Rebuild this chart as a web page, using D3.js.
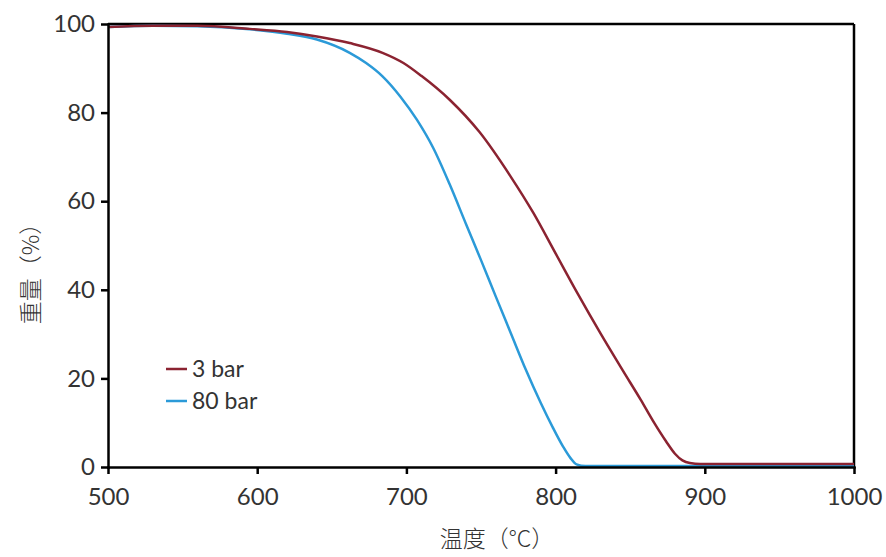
<!DOCTYPE html>
<html>
<head>
<meta charset="utf-8">
<script src="https://cdn.jsdelivr.net/npm/d3@7"></script>
<style>
  body { margin: 0; background: #fff; }
  .axis text { font-family: Lato, "Noto Sans", sans-serif; font-size: 24px; fill: #333; }
  .axis path, .axis line { stroke: #000; stroke-width: 2.5; }
</style>
</head>
<body>
<svg id="chart"></svg>
<script>
//*************** data ******************//
var xTicks = [500, 600, 700, 800, 900, 1000];
var yTicks = [0, 20, 40, 60, 80, 100];

// 3 bar
var temp3 = [500, 530, 560, 595, 620, 640, 662, 684, 698, 710, 729, 749, 770, 785, 800, 815, 830, 845, 857, 866, 874, 880, 885, 890, 897, 1000];
var wt3   = [99.3, 99.6, 99.6, 98.9, 98.2, 97.2, 95.7, 93.5, 91.2, 88.3, 82.9, 75.6, 65.5, 57.4, 48.2, 39, 30.2, 21.8, 15.2, 10, 5.8, 3.0, 1.5, 0.9, 0.7, 0.7];

// 80 bar
var temp80 = [500, 530, 560, 595, 620, 640, 662, 673, 684, 696, 707, 718, 729, 740, 750, 760, 770, 780, 790, 798, 805, 810, 814, 820, 1000];
var wt80   = [99.3, 99.6, 99.5, 98.8, 97.8, 96.5, 93.5, 91.2, 88.2, 83.6, 78.4, 72, 63.8, 54.8, 46.7, 38.4, 30.2, 22, 14.5, 9, 4.6, 2, 0.6, 0.2, 0.2];

var seriesNames = ["3 bar", "80 bar"];
var seriesColors = ["#8b2331", "#2b9ad8"];

//*************** setup ******************//
var W = 886, H = 557;
var margin = {top: 24, right: 32, bottom: 90, left: 108};
var width = W - margin.left - margin.right,
    height = H - margin.top - margin.bottom;

var svg = d3.select("svg#chart")
  .attr("width", W)
  .attr("height", H);

var plot = svg.append("g")
  .attr("transform", "translate(" + margin.left + "," + margin.top + ")");

var xScale = d3.scaleLinear().domain([500, 1000]).range([0, width]),
    yScale = d3.scaleLinear().domain([0, 100]).range([height, 0]);

// box top / right
plot.append("line")
  .attr("x1", 0).attr("x2", width).attr("y1", 0).attr("y2", 0)
  .attr("stroke", "#000").attr("stroke-width", 2.5);
plot.append("line")
  .attr("x1", width).attr("x2", width).attr("y1", 0).attr("y2", height)
  .attr("stroke", "#000").attr("stroke-width", 2.5);

//--------------- lines
var line = d3.line()
  .x(function(d) { return xScale(d.t); })
  .y(function(d) { return yScale(d.w); })
  .curve(d3.curveMonotoneX);

var data3 = temp3.map(function(t, i) { return {t: t, w: wt3[i]}; });
var data80 = temp80.map(function(t, i) { return {t: t, w: wt80[i]}; });

plot.append("path")
  .datum(data80)
  .attr("fill", "none")
  .attr("stroke", seriesColors[1])
  .attr("stroke-width", 2.5)
  .attr("d", line);

plot.append("path")
  .datum(data3)
  .attr("fill", "none")
  .attr("stroke", seriesColors[0])
  .attr("stroke-width", 2.5)
  .attr("d", line);

//--------------- axes
var xAxis = d3.axisBottom(xScale).tickValues(xTicks).tickSize(7).tickPadding(14)
  .tickSizeOuter(0).tickFormat(d3.format("d"));
plot.append("g")
  .attr("class", "axis")
  .attr("transform", "translate(0," + height + ")")
  .call(xAxis);

var yAxis = d3.axisLeft(yScale).tickValues(yTicks).tickSize(7).tickPadding(6).tickSizeOuter(0);
plot.append("g")
  .attr("class", "axis")
  .call(yAxis);

plot.selectAll(".axis .domain").attr("stroke-linecap", "square");

//--------------- axis titles
svg.append("text")
  .attr("x", 497)
  .attr("y", 547)
  .attr("text-anchor", "middle")
  .attr("font-family", "'Noto Sans CJK SC', sans-serif")
  .attr("font-weight", 300)
  .attr("font-size", "23px")
  .attr("fill", "#333")
  .text("温度（°C）");

svg.append("text")
  .attr("transform", "translate(39,268) rotate(-90)")
  .attr("text-anchor", "middle")
  .attr("font-family", "'Noto Sans CJK SC', sans-serif")
  .attr("font-weight", 300)
  .attr("font-size", "23px")
  .attr("fill", "#333")
  .text("重量（%）");

//--------------- legend
var legend = svg.append("g")
  .attr("transform", "translate(166,369)");

seriesNames.forEach(function(name, i) {
  var g = legend.append("g").attr("transform", "translate(0," + (i * 32) + ")");
  g.append("line")
    .attr("x1", 0).attr("x2", 21).attr("y1", 0).attr("y2", 0)
    .attr("stroke", seriesColors[i]).attr("stroke-width", 2.5);
  g.append("text")
    .attr("x", 26)
    .attr("y", 8)
    .attr("font-family", "Lato, 'Noto Sans', sans-serif")
    .attr("font-size", "23px")
    .attr("fill", "#333")
    .text(name);
});
</script>
</body>
</html>
